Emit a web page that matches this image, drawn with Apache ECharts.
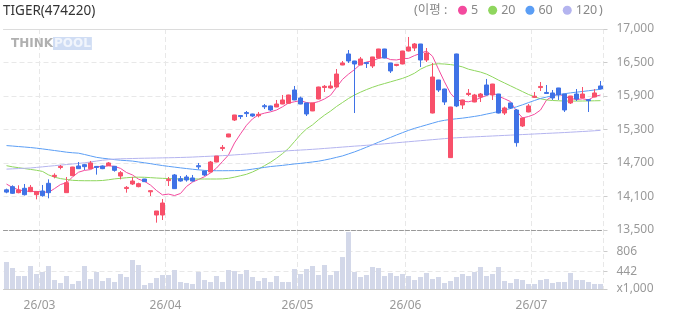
<!DOCTYPE html>
<html>
<head>
<meta charset="utf-8">
<script src="https://cdn.jsdelivr.net/npm/echarts@6/dist/echarts.min.js"></script>
<style>
  body { margin: 0; background: #fff; }
  #chart { width: 673px; height: 315px; }
</style>
</head>
<body>
<div id="chart"></div>
<script>
// trading days shown (Feb 20 ~ Jul 16, 2026)
const dates = [
  '2026-02-20', '2026-02-23', '2026-02-24', '2026-02-25', '2026-02-26', '2026-02-27',
  '2026-03-03', '2026-03-04', '2026-03-05', '2026-03-06', '2026-03-09', '2026-03-10', '2026-03-11',
  '2026-03-12', '2026-03-13', '2026-03-16', '2026-03-17', '2026-03-18', '2026-03-19', '2026-03-20',
  '2026-03-23', '2026-03-24', '2026-03-25', '2026-03-26', '2026-03-27', '2026-03-30', '2026-03-31',
  '2026-04-01', '2026-04-02', '2026-04-03', '2026-04-06', '2026-04-07', '2026-04-08', '2026-04-09',
  '2026-04-10', '2026-04-13', '2026-04-14', '2026-04-15', '2026-04-16', '2026-04-17', '2026-04-20',
  '2026-04-21', '2026-04-22', '2026-04-23', '2026-04-24', '2026-04-27', '2026-04-28', '2026-04-29',
  '2026-04-30',
  '2026-05-04', '2026-05-06', '2026-05-07', '2026-05-08', '2026-05-11', '2026-05-12', '2026-05-13',
  '2026-05-14', '2026-05-15', '2026-05-18', '2026-05-19', '2026-05-20', '2026-05-21', '2026-05-22',
  '2026-05-26', '2026-05-27', '2026-05-28', '2026-05-29',
  '2026-06-01', '2026-06-02', '2026-06-04', '2026-06-05', '2026-06-08', '2026-06-09', '2026-06-10',
  '2026-06-11', '2026-06-12', '2026-06-15', '2026-06-16', '2026-06-17', '2026-06-18', '2026-06-19',
  '2026-06-22', '2026-06-23', '2026-06-24', '2026-06-25', '2026-06-26', '2026-06-29', '2026-06-30',
  '2026-07-01', '2026-07-02', '2026-07-03', '2026-07-06', '2026-07-07', '2026-07-08', '2026-07-09',
  '2026-07-10', '2026-07-13', '2026-07-14', '2026-07-15', '2026-07-16'
]

const opens = [
  14200, 14255, 14150, 14226, 14168, 14115, 14179, 14313, 14432, 14588,
  14150, 14446, 14615, 14638, 14568, 14607, 14615, 14620, 14609, 14440,
  14222, 14301, 14255, 14388, 14165, 13761, 13761, 14360, 14458, 14394,
  14423, 14406, 14620, 14527, 14510, 14684, 14918, 15120, 15415, 15493,
  15545, 15520, 15490, 15664, 15660, 15642, 15694, 15706, 15938, 15799,
  15712, 15573, 15781, 15982, 15973, 15990, 16373, 16565, 16443, 16373,
  16415, 16356, 16495, 16652, 16408, 16365, 16391, 16617, 16669, 16739,
  16460, 15537, 16112, 15955, 14760, 16565, 15677, 15860, 15729, 15816,
  16025, 15851, 15868, 15537, 15712, 15590, 15311, 15555, 15810, 15980,
  15895, 15886, 15973, 15868, 15712, 15868, 15799, 15770, 15816, 16008
]
const closes = [
  14160, 14139, 14197, 14115, 14243, 14168, 14098, 14150, 14452, 14608,
  14324, 14597, 14568, 14603, 14667, 14590, 14568, 14667, 14539, 14498,
  14242, 14353, 14307, 14342, 14185, 13831, 13970, 14382, 14220, 14353,
  14371, 14353, 14600, 14458, 14684, 14788, 14938, 15172, 15503, 15475,
  15527, 15485, 15515, 15646, 15590, 15694, 15764, 15851, 15764, 15694,
  15520, 15712, 15990, 16002, 16008, 16216, 16408, 16443, 16391, 16478,
  16398, 16513, 16652, 16495, 16269, 16385, 16617, 16687, 16739, 16460,
  16582, 16164, 15938, 15729, 15642, 15660, 15764, 15880, 15851, 15868,
  15851, 16042, 15537, 15625, 15625, 15021, 15450, 15660, 15830, 16000,
  15877, 15799, 15851, 15590, 15833, 15781, 15868, 15752, 15886, 15955
]
const lows = [
  14140, 14127, 14139, 14100, 14160, 14034, 14080, 14052, 14400, 14556,
  14150, 14440, 14565, 14545, 14565, 14464, 14560, 14615, 14516, 14382,
  14150, 14284, 14243, 14335, 14092, 13628, 13674, 14266, 14214, 14342,
  14342, 14342, 14556, 14440, 14505, 14680, 14876, 15115, 15398, 15433,
  15468, 15470, 15462, 15607, 15572, 15640, 15690, 15700, 15760, 15690,
  15485, 15570, 15775, 15903, 15960, 15985, 16370, 16408, 15537, 16370,
  16321, 16321, 16490, 16490, 16234, 16350, 16385, 16610, 16617, 16338,
  16425, 15530, 15903, 15677, 14755, 15640, 15607, 15833, 15725, 15729,
  15845, 15764, 15530, 15503, 15607, 14951, 15294, 15550, 15800, 15920,
  15870, 15764, 15764, 15555, 15694, 15746, 15795, 15555, 15810, 15950
]
const highs = [
  14220, 14278, 14278, 14301, 14284, 14170, 14284, 14382, 14487, 14632,
  14423, 14600, 14684, 14650, 14702, 14610, 14625, 14684, 14615, 14527,
  14266, 14423, 14324, 14390, 14186, 13831, 14040, 14423, 14475, 14440,
  14458, 14458, 14667, 14530, 14702, 14790, 14980, 15175, 15505, 15495,
  15572, 15525, 15555, 15694, 15665, 15764, 15851, 15855, 16008, 15822,
  15715, 15715, 15995, 16025, 16089, 16303, 16443, 16634, 16445, 16513,
  16418, 16515, 16655, 16655, 16410, 16390, 16620, 16861, 16756, 16740,
  16669, 16408, 16115, 15960, 15645, 16570, 15770, 15955, 15870, 15886,
  16130, 16045, 15870, 15648, 15715, 15607, 15455, 15694, 15903, 16077,
  16025, 15938, 15975, 15870, 15835, 15955, 15990, 15781, 15955, 16095
]

// moving averages
const ma5 = [
  14300, 14240, 14200, 14180, 14171, 14172, 14164, 14155, 14221, 14292,
  14323, 14423, 14506, 14538, 14552, 14606, 14600, 14620, 14607, 14573,
  14501, 14458, 14386, 14347, 14282, 14188, 14111, 14125, 14100, 14136,
  14258, 14334, 14380, 14428, 14494, 14578, 14693, 14806, 15015, 15174,
  15324, 15435, 15505, 15535, 15557, 15589, 15645, 15711, 15733, 15753,
  15719, 15708, 15736, 15782, 15845, 15984, 16123, 16214, 16293, 16387,
  16425, 16446, 16488, 16509, 16467, 16461, 16482, 16489, 16537, 16576,
  16617, 16526, 16300, 16080, 15880, 15770, 15740, 15733, 15757, 15803,
  15841, 15896, 15830, 15785, 15736, 15570, 15452, 15476, 15515, 15589,
  15762, 15832, 15870, 15824, 15792, 15771, 15785, 15766, 15826, 15850
]
const ma20 = [
  14620, 14600, 14585, 14570, 14555, 14540, 14520, 14460, 14420, 14395,
  14380, 14365, 14360, 14358, 14358, 14358, 14362, 14375, 14390, 14400,
  14410, 14418, 14420, 14418, 14412, 14405, 14400, 14395, 14390, 14388,
  14388, 14388, 14388, 14388, 14388, 14388, 14390, 14400, 14420, 14445,
  14470, 14510, 14560, 14620, 14680, 14750, 14830, 14920, 15040, 15160,
  15260, 15330, 15420, 15500, 15570, 15650, 15720, 15790, 15850, 15900,
  15945, 15985, 16020, 16050, 16080, 16110, 16140, 16180, 16230, 16300,
  16350, 16385, 16395, 16390, 16380, 16365, 16340, 16300, 16275, 16250,
  16215, 16165, 16110, 16060, 16010, 15960, 15910, 15860, 15820, 15785,
  15765, 15755, 15750, 15746, 15745, 15745, 15746, 15748, 15750, 15752
]
const ma60 = [
  14970, 14962, 14953, 14945, 14936, 14925, 14912, 14898, 14884, 14870,
  14855, 14845, 14838, 14815, 14790, 14765, 14750, 14738, 14725, 14715,
  14708, 14700, 14685, 14670, 14655, 14638, 14622, 14608, 14595, 14582,
  14570, 14558, 14548, 14538, 14533, 14532, 14532, 14533, 14534, 14536,
  14545, 14560, 14575, 14590, 14605, 14615, 14625, 14638, 14650, 14660,
  14672, 14685, 14698, 14718, 14740, 14765, 14790, 14825, 14860, 14900,
  14942, 14985, 15028, 15070, 15112, 15155, 15195, 15235, 15270, 15300,
  15330, 15360, 15390, 15410, 15425, 15437, 15448, 15462, 15478, 15495,
  15518, 15540, 15565, 15590, 15615, 15645, 15680, 15718, 15755, 15790,
  15815, 15838, 15858, 15873, 15888, 15900, 15912, 15925, 15938, 15950
]
const ma120 = [
  14560, 14565, 14570, 14575, 14580, 14590, 14600, 14610, 14620, 14630,
  14640, 14650, 14660, 14670, 14685, 14700, 14715, 14725, 14735, 14740,
  14742, 14745, 14748, 14750, 14752, 14754, 14756, 14758, 14760, 14763,
  14766, 14770, 14775, 14780, 14785, 14790, 14795, 14800, 14808, 14815,
  14822, 14830, 14838, 14846, 14855, 14864, 14872, 14880, 14886, 14892,
  14898, 14905, 14912, 14920, 14928, 14936, 14944, 14952, 14960, 14967,
  14975, 14983, 14992, 15001, 15010, 15019, 15028, 15037, 15046, 15055,
  15064, 15073, 15082, 15091, 15100, 15106, 15112, 15117, 15122, 15127,
  15132, 15137, 15142, 15147, 15152, 15157, 15162, 15167, 15172, 15177,
  15182, 15187, 15192, 15197, 15203, 15209, 15215, 15221, 15228, 15235
]

// volume, thousands of shares
const volumes = [
  611, 502, 357, 357, 539, 393, 429, 539, 284, 229,
  357, 211, 266, 539, 302, 429, 266, 320, 247, 393,
  338, 648, 557, 193, 229, 320, 375, 375, 466, 247,
  229, 211, 429, 284, 247, 357, 247, 466, 448, 393,
  466, 338, 266, 320, 247, 357, 247, 247, 484, 393,
  484, 539, 375, 557, 375, 448, 702, 1157, 429, 338,
  375, 520, 502, 357, 411, 357, 393, 357, 284, 338,
  411, 302, 338, 229, 266, 338, 393, 357, 429, 520,
  357, 393, 520, 266, 229, 302, 284, 211, 211, 284,
  302, 229, 247, 247, 411, 284, 284, 247, 211, 211
]

const priceLabels = ['13,500', '14,100', '14,700', '15,300', '15,900', '16,500', '17,000']
const volumeTicks = [120, 442, 806]
const maNames = ['5', '20', '60', '120']
const maColors = ['#f34a9e', '#8fd65e', '#5b9ef5', '#b4b4ef']

const UP = '#f8506a'
const DOWN = '#3f72e6'
const GRID_LINE = { color: '#e8e8e8', type: [5, 3] }

const isMonthStart = (index) => index > 0 && dates[index].slice(0, 7) !== dates[index - 1].slice(0, 7)

const chart = echarts.init(document.getElementById('chart'))

const maSeries = [ma5, ma20, ma60, ma120].map((values, i) => ({
    name: maNames[i],
    type: 'line',
    data: values,
    xAxisIndex: 0,
    yAxisIndex: 0,
    showSymbol: false,
    silent: true,
    z: 2,
    itemStyle: { color: maColors[i] },
    lineStyle: { color: maColors[i], width: 1 }
}))

chart.setOption({
    animation: false,
    textStyle: { fontFamily: '"Noto Sans", "Noto Sans CJK KR", sans-serif' },
    title: [
        {
            text: 'TIGER(474220)',
            left: 3,
            top: 4,
            padding: 0,
            textStyle: { color: '#333', fontSize: 13.5, fontWeight: 'normal' }
        },
        {
            text: '{a|THINK}{b|POOL}',
            left: 11,
            top: 37,
            padding: 0,
            textStyle: {
                rich: {
                    a: { color: '#b0b0b0', fontSize: 12, fontWeight: 'bold', fontFamily: 'DejaVu Sans' },
                    b: { color: '#f1f5fc', backgroundColor: '#d0ddf4', fontSize: 12, fontWeight: 'bold', fontFamily: 'DejaVu Sans', padding: [1, 1, 0, 1] }
                }
            }
        },
        {
            text: '(이평 :',
            left: 414,
            top: 4,
            padding: 0,
            textStyle: { color: '#888', fontSize: 12.5, fontWeight: 'normal' }
        },
        {
            text: ')',
            left: 599,
            top: 4,
            padding: 0,
            textStyle: { color: '#888', fontSize: 12.5, fontWeight: 'normal' }
        }
    ],
    legend: {
        data: maNames,
        left: 458,
        top: 4,
        padding: 0,
        icon: 'circle',
        itemWidth: 9,
        itemHeight: 9,
        itemGap: 10,
        selectedMode: false,
        textStyle: { color: '#888', fontSize: 12.5, padding: [0, 0, 0, -1] }
    },
    grid: [
        { left: 3.5, right: 69.5, top: 29, height: 201 },
        { left: 3.5, right: 69.5, top: 230, height: 59 }
    ],
    xAxis: [
        {
            gridIndex: 0,
            type: 'category',
            data: dates,
            axisLine: { lineStyle: { color: '#999', type: [4, 2] } },
            axisTick: { show: false },
            axisLabel: { show: false },
            splitLine: { show: true, interval: isMonthStart, lineStyle: GRID_LINE }
        },
        {
            gridIndex: 0,
            type: 'category',
            data: dates,
            position: 'top',
            axisLine: { lineStyle: { color: '#dcdcdc' } },
            axisTick: { show: false },
            axisLabel: { show: false }
        },
        {
            gridIndex: 1,
            type: 'category',
            data: dates,
            axisLine: { lineStyle: { color: '#ccc' } },
            axisTick: { show: false },
            axisLabel: {
                interval: isMonthStart,
                formatter: (value) => value.slice(2, 4) + '/' + value.slice(5, 7),
                color: '#999',
                fontSize: 12,
                margin: 11,
                padding: [0, 6, 0, 0]
            },
            splitLine: { show: true, interval: isMonthStart, lineStyle: GRID_LINE }
        }
    ],
    yAxis: [
        {
            gridIndex: 0,
            type: 'value',
            position: 'right',
            min: 13500,
            max: 17000,
            interval: 3500 / 6,
            axisLine: { show: false },
            axisTick: { show: true, length: 4, lineStyle: { color: '#ccc' } },
            axisLabel: {
                color: '#999',
                fontSize: 12,
                margin: 13,
                formatter: (v) => priceLabels[Math.round((v - 13500) / (3500 / 6))]
            },
            splitLine: { lineStyle: GRID_LINE }
        },
        {
            gridIndex: 1,
            type: 'value',
            position: 'right',
            min: 120,
            max: 1194,
            axisLine: { show: false },
            axisTick: { show: true, length: 4, customValues: volumeTicks, lineStyle: { color: '#ccc' } },
            axisLabel: {
                customValues: volumeTicks,
                color: '#999',
                fontSize: 12,
                margin: 13,
                formatter: (v) => (v === 120 ? 'x1,000' : String(v))
            },
            splitLine: { lineStyle: GRID_LINE }
        }
    ],
    series: [
        ...maSeries,
        {
            name: 'price',
            type: 'candlestick',
            xAxisIndex: 0,
            yAxisIndex: 0,
            barWidth: 5,
            z: 3,
            data: dates.map((d, i) => [opens[i], closes[i], lows[i], highs[i]]),
            itemStyle: {
                color: UP,
                color0: DOWN,
                borderColor: UP,
                borderColor0: DOWN,
                borderWidth: 1
            }
        },
        {
            name: 'volume',
            type: 'bar',
            xAxisIndex: 2,
            yAxisIndex: 1,
            barWidth: 5,
            data: volumes,
            itemStyle: { color: '#d3d8e9' }
        }
    ]
})
</script>
</body>
</html>
